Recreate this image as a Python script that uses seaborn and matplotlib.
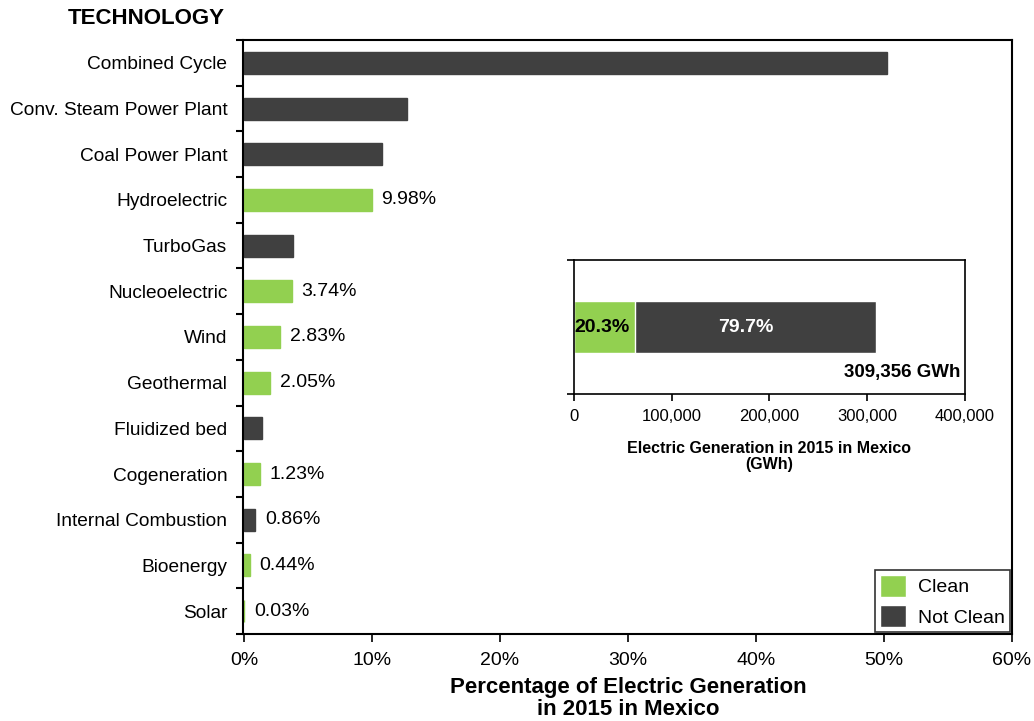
import matplotlib
matplotlib.use("Agg")
import matplotlib.pyplot as plt
from matplotlib.ticker import FuncFormatter
from matplotlib.patches import Patch
import seaborn as sns
import pandas as pd

# Share of 2015 electric generation in Mexico by technology (%)
technologies = [
    "Combined Cycle", "Conv. Steam Power Plant", "Coal Power Plant", "Hydroelectric",
    "TurboGas", "Nucleoelectric", "Wind", "Geothermal", "Fluidized bed",
    "Cogeneration", "Internal Combustion", "Bioenergy", "Solar",
]
shares = [50.2, 12.7, 10.8, 9.98, 3.8, 3.74, 2.83, 2.05, 1.4, 1.23, 0.86, 0.44, 0.03]
kinds = ["Not Clean", "Not Clean", "Not Clean", "Clean", "Not Clean", "Clean", "Clean",
         "Clean", "Not Clean", "Clean", "Not Clean", "Clean", "Clean"]
value_labels = [None, None, None, "9.98%", None, "3.74%", "2.83%", "2.05%", None,
                "1.23%", "0.86%", "0.44%", "0.03%"]

# Totals for the summary bar
total_gwh = 309356
clean_pct = 20.3
not_clean_pct = 79.7

GREEN = "#92D050"
DARK = "#404040"
palette = {"Clean": GREEN, "Not Clean": DARK}

sns.set_style("ticks")
plt.rcParams["font.family"] = ["Liberation Sans", "DejaVu Sans"]
for key in ("text.color", "axes.labelcolor", "xtick.color", "ytick.color"):
    plt.rcParams[key] = "black"

fig = plt.figure(figsize=(10.34, 7.21), dpi=100)
ax = fig.add_axes([0.236, 0.1207, 0.7427, 0.8238])

df = pd.DataFrame({"technology": technologies, "share": shares, "kind": kinds})
sns.barplot(data=df, x="share", y="technology", hue="kind", palette=palette,
            dodge=False, width=0.48, orient="h", ax=ax, legend=False,
            saturation=1)
# thin matching outline keeps the tiniest bars visible
for bar in ax.patches:
    bar.set_edgecolor(bar.get_facecolor())
    bar.set_linewidth(1.0)

for i, (v, lab) in enumerate(zip(shares, value_labels)):
    if lab:
        ax.annotate(lab, xy=(v, i), xytext=(7, 0), textcoords="offset points",
                    va="center", ha="left", fontsize=14, color="black")

ax.set_xlim(0, 60)
ax.set_ylim(len(technologies) - 0.5, -0.5)
ax.set_xticks(range(0, 61, 10))
ax.xaxis.set_major_formatter(FuncFormatter(lambda x, p: f"{x:.0f}%"))
ax.tick_params(axis="x", length=6, width=1.2, direction="out", pad=7, labelsize=14)
ax.tick_params(axis="y", which="major", length=0, pad=11, labelsize=13.8)
ax.set_yticks([i + 0.5 for i in range(-1, len(technologies))], minor=True)
ax.tick_params(axis="y", which="minor", length=5, width=1.5, direction="out")
ax.set_ylabel("")
ax.set_xlabel("Percentage of Electric Generation\nin 2015 in Mexico", fontsize=16,
              fontweight="bold", labelpad=6, linespacing=1.05)
for s in ax.spines.values():
    s.set_visible(True)
    s.set_color("black")
    s.set_linewidth(1.5)
ax.spines["left"].set_position(("outward", 1))

fig.text(0.066, 0.974, "TECHNOLOGY", fontsize=16, fontweight="bold", va="center", ha="left")

legend_handles = [Patch(facecolor=GREEN, label="Clean"), Patch(facecolor=DARK, label="Not Clean")]
leg = ax.legend(handles=legend_handles, loc="lower right", bbox_to_anchor=(1.0, 0.0),
                frameon=True, fancybox=False, fontsize=14, handlelength=1.35,
                handleheight=1.35, borderpad=0.25, labelspacing=0.45, handletextpad=0.62,
                borderaxespad=0.1)
leg.get_frame().set_edgecolor("black")
leg.get_frame().set_linewidth(1.2)

# Summary stacked bar of total generation
inset = fig.add_axes([0.555, 0.4535, 0.378, 0.1859])
summary = pd.DataFrame({"label": ["Mexico"],
                        "total": [total_gwh],
                        "clean": [total_gwh * clean_pct / 100]})
sns.barplot(data=summary, x="total", y="label", color=DARK, width=0.39, orient="h",
            ax=inset, saturation=1)
sns.barplot(data=summary, x="clean", y="label", color=GREEN, width=0.39, orient="h",
            ax=inset, saturation=1)
inset.set_xlim(0, 400000)
inset.set_ylim(0.5, -0.5)
inset.set_xticks(range(0, 400001, 100000))
inset.xaxis.set_major_formatter(FuncFormatter(lambda x, p: f"{x:,.0f}"))
inset.tick_params(axis="x", length=5, width=1.2, direction="out", labelsize=12, pad=6)
inset.set_yticks([-0.5, 0.5])
inset.set_yticklabels(["", ""])
inset.tick_params(axis="y", length=5, width=1.2, direction="out")
inset.set_ylabel("")
inset.set_xlabel("Electric Generation in 2015 in Mexico\n(GWh)", fontsize=11.5,
                 fontweight="bold", labelpad=12, linespacing=1.1)
for s in inset.spines.values():
    s.set_visible(True)
    s.set_color("black")
    s.set_linewidth(1.2)

clean_gwh = total_gwh * clean_pct / 100
inset.text(700, 0, f"{clean_pct}%", ha="left", va="center", fontsize=14,
           fontweight="bold", color="black")
inset.annotate(f"{not_clean_pct}%", xy=((clean_gwh + total_gwh) / 2, 0),
               xytext=(-7, 0), textcoords="offset points", ha="center",
               va="center", fontsize=14, fontweight="bold", color="white")
inset.text(0.988, 0.34, f"{total_gwh:,} GWh", ha="right", va="center",
           fontsize=13.5, fontweight="bold", color="black",
           transform=inset.get_yaxis_transform())

fig.savefig("out.png", dpi=100, facecolor="white")
